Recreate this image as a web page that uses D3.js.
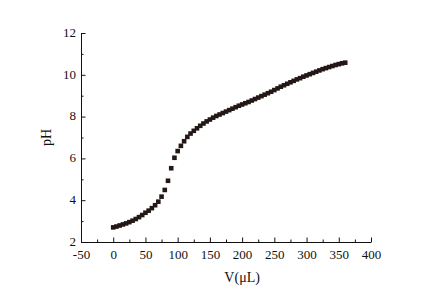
<!DOCTYPE html>
<html>
<head>
<meta charset="utf-8">
<script src="https://cdn.jsdelivr.net/npm/d3@7"></script>
<style>
  body { margin: 0; background: #fff; }
  svg text { font-family: "Liberation Serif", "DejaVu Serif", serif; fill: #111; }
</style>
</head>
<body>
<svg id="chart"></svg>
<script>
const WIDTH = 424,
    HEIGHT = 295;

const margin = { top: 33, right: 53, bottom: 53, left: 81 };

// volume added (µL) and measured pH
const volumes = d3.range(0, 365, 5);
const ph = [
    2.70, 2.74, 2.79, 2.84, 2.89, 2.95, 3.02, 3.10, 3.19, 3.29,
    3.40, 3.50, 3.62, 3.76, 3.93, 4.17, 4.49, 4.93, 5.53, 6.03,
    6.35, 6.60, 6.82, 7.03, 7.19, 7.32, 7.44, 7.56, 7.67, 7.77,
    7.86, 7.95, 8.03, 8.10, 8.17, 8.24, 8.31, 8.38, 8.45, 8.52,
    8.58, 8.64, 8.70, 8.77, 8.84, 8.91, 8.98, 9.05, 9.12, 9.19,
    9.27, 9.35, 9.43, 9.50, 9.57, 9.64, 9.71, 9.78, 9.84, 9.91,
    9.97, 10.03, 10.09, 10.15, 10.21, 10.27, 10.32, 10.37, 10.42, 10.47,
    10.51, 10.55, 10.58
];
const xTicks = [-50, 0, 50, 100, 150, 200, 250, 300, 350, 400];
const yTicks = [2, 4, 6, 8, 10, 12];

const datos = volumes.map((v, i) => ({ v: v, ph: ph[i] }));

const svg = d3.select("#chart")
    .attr("width", WIDTH)
    .attr("height", HEIGHT);

const x = d3.scaleLinear()
    .domain([-50, 400])
    .range([margin.left, WIDTH - margin.right]);

const y = d3.scaleLinear()
    .domain([2, 12])
    .range([HEIGHT - margin.bottom, margin.top]);

// minor ticks first
svg.append("g")
    .attr("transform", `translate(0 ${HEIGHT - margin.bottom})`)
    .call(d3.axisBottom(x).tickValues(d3.range(-25, 400, 50)).tickSize(-2.5).tickFormat(""))
    .call(g => g.select(".domain").remove());

svg.append("g")
    .attr("transform", `translate(${margin.left} 0)`)
    .call(d3.axisLeft(y).tickValues(d3.range(3, 12, 2)).tickSize(-2.5).tickFormat(""))
    .call(g => g.select(".domain").remove());

const ejeX = svg.append("g")
    .attr("transform", `translate(0 ${HEIGHT - margin.bottom})`)
    .call(d3.axisBottom(x).tickValues(xTicks).tickFormat(d => String(d))
        .tickSizeInner(-4.5).tickSizeOuter(0).tickPadding(10));

const ejeY = svg.append("g")
    .attr("transform", `translate(${margin.left} 0)`)
    .call(d3.axisLeft(y).tickValues(yTicks).tickSizeInner(-4.5).tickSizeOuter(0).tickPadding(5));

svg.selectAll(".tick line").attr("stroke", "#111");
svg.selectAll(".domain").attr("stroke", "#111");
svg.selectAll(".tick text").attr("font-size", 13).style("font-family", "Liberation Serif, serif");
ejeX.selectAll(".tick text").attr("dy", "0.55em");
ejeY.selectAll(".tick text").attr("dy", "0.25em");

// points
svg.append("g")
    .selectAll("rect")
    .data(datos)
    .join("rect")
    .attr("x", d => x(d.v) - 2.3)
    .attr("y", d => y(d.ph) - 2.3)
    .attr("width", 4.6)
    .attr("height", 4.6)
    .attr("fill", "#231815");

// titles
svg.append("text")
    .attr("x", x(200))
    .attr("y", 282)
    .attr("text-anchor", "middle")
    .attr("font-size", 14)
    .text("V(μL)");

svg.append("text")
    .attr("transform", `translate(51 ${y(7)}) rotate(-90)`)
    .attr("text-anchor", "middle")
    .attr("font-size", 14)
    .text("pH");
</script>
</body>
</html>
